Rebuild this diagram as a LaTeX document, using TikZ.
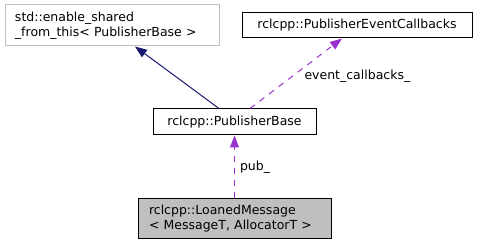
\documentclass[tikz,border=0pt]{standalone}
\usepackage{fontspec}
\setmainfont{DejaVu Sans}
\usetikzlibrary{arrows.meta}
\definecolor{boxgray}{HTML}{BFBFBF}
\definecolor{lightedge}{HTML}{BFBFBF}
\definecolor{navyedge}{HTML}{191970}
\definecolor{orchid}{HTML}{9A32CD}
\tikzset{
  cls/.style={draw=black, line width=1pt, rectangle, inner sep=0pt,
    font=\fontsize{12.5}{15}\selectfont, text=black},
  wide/.style={inner xsep=10pt, text width=#1, align=left},
  inherit/.style={draw=navyedge, line width=1pt, -{Triangle[length=12pt,width=9pt]}},
  usage/.style={draw=orchid, line width=1pt, dash pattern=on 6pt off 6pt,
    -{Triangle[length=12pt,width=9pt,fill=orchid]}},
  lbl/.style={font=\fontsize{12.5}{15}\selectfont, text=black, inner sep=0pt},
}
\begin{document}
\begin{tikzpicture}[x=1pt,y=-1pt]
\useasboundingbox (0,0) rectangle (477,245);
\node[cls, draw=lightedge, wide=194pt, minimum height=41pt] (b1) at (112,25.5)
  {\mbox{std::enable\_shared}\\\mbox{\_from\_this< PublisherBase >}};
\node[cls, minimum width=230pt, minimum height=25pt] (b2) at (357,25.5)
  {rclcpp::PublisherEventCallbacks};
\node[cls, minimum width=163pt, minimum height=26pt] (pb) at (234.5,122)
  {rclcpp::PublisherBase};
\node[cls, fill=boxgray, inner xsep=11pt, text width=171pt, align=left, minimum height=40pt] (lm) at (234.5,219)
  {\mbox{rclcpp::LoanedMessage}\\\mbox{< MessageT, AllocatorT >}};
\draw[inherit] (pb.north -| 219,0) -- (b1.south -| 135,0);
\draw[usage] (pb.north -| 250,0) -- node[lbl, anchor=west, pos=0.5, xshift=8pt, yshift=-3pt] (l1) {event\_callbacks\_} (b2.south -| 342,0);
\draw[usage] (lm.north) -- node[lbl, anchor=west, xshift=5pt] (l2) {pub\_} (pb.south);
\end{tikzpicture}
\end{document}
